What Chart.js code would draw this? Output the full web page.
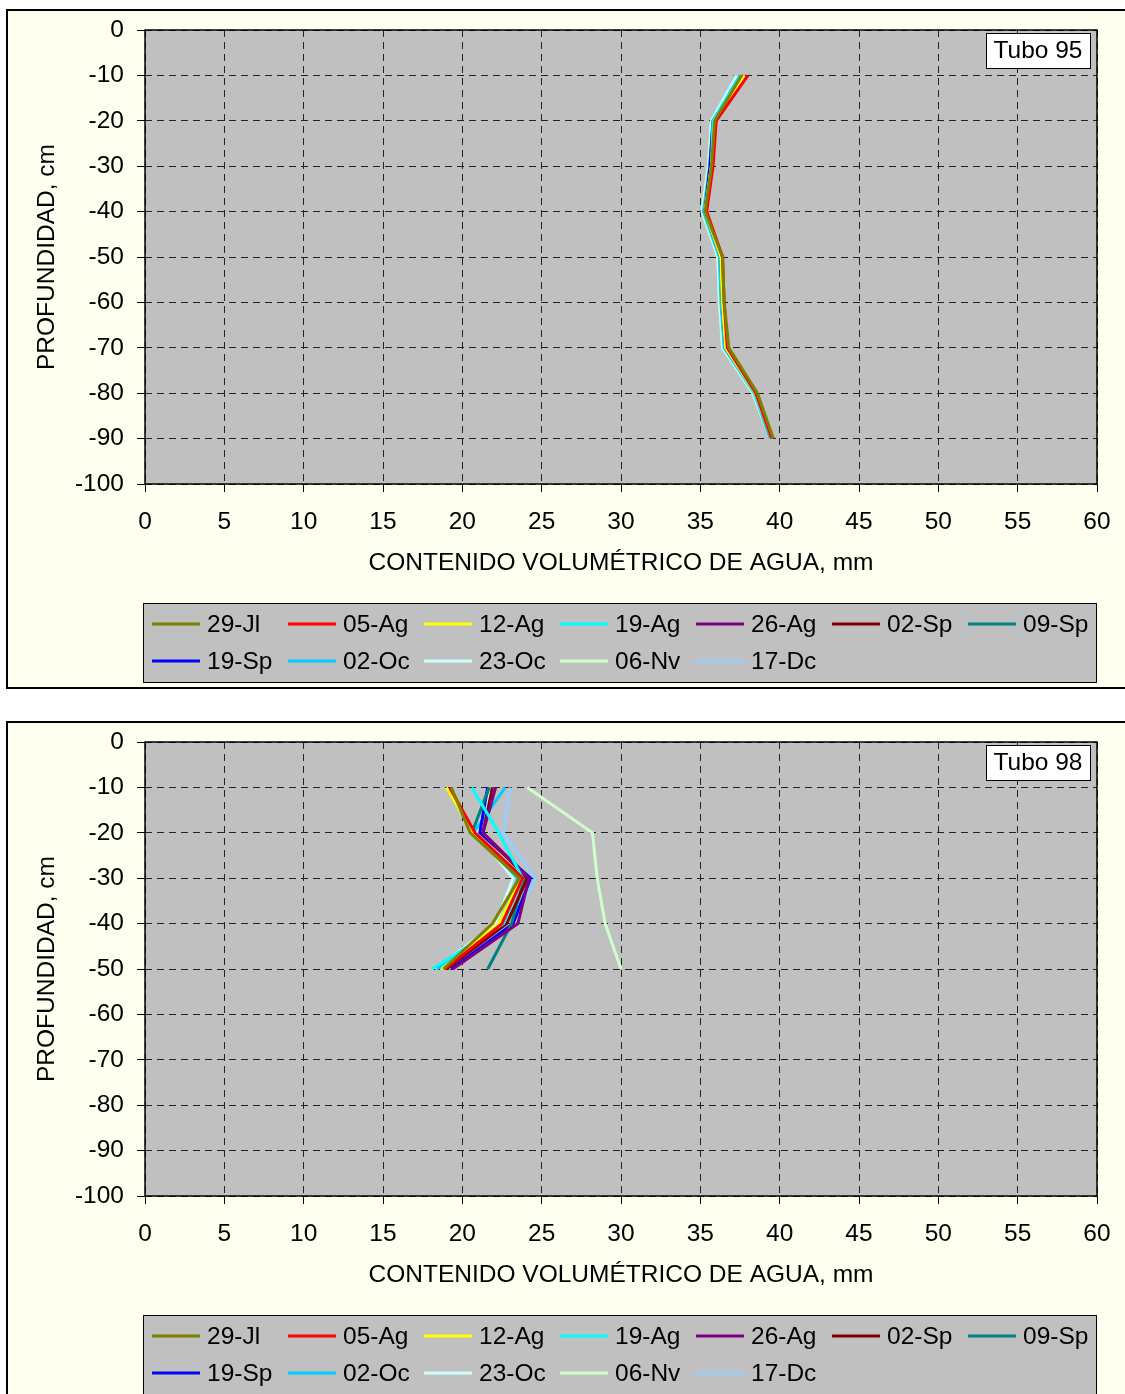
<!DOCTYPE html>
<html>
<head>
<meta charset="utf-8">
<script src="https://cdn.jsdelivr.net/npm/chart.js@4.4.0/dist/chart.umd.min.js"></script>
<style>
  html, body { margin: 0; padding: 0; background: #ffffff; overflow: hidden; width: 1125px; height: 1394px; }
  .caja { position: absolute; left: 6px; border: 2px solid #000; background: #FFFFF0; width: 1130px; height: 676px; }
  canvas { display: block; }
</style>
</head>
<body>
<div class="caja" style="top:9px"><canvas id="chartTubo95" width="1130" height="676"></canvas></div>
<div class="caja" style="top:721px"><canvas id="chartTubo98" width="1130" height="676"></canvas></div>
<script>
// fechas y colores (paleta excel)
const fechas = ["29-Jl", "05-Ag", "12-Ag", "19-Ag", "26-Ag", "02-Sp", "09-Sp", "19-Sp", "02-Oc", "23-Oc", "06-Nv", "17-Dc"]
const colores = ["#808000", "#FF0000", "#FFFF00", "#00FFFF", "#800080", "#800000", "#008080", "#0000FF", "#00CCFF", "#CCFFFF", "#CCFFCC", "#99CCFF"]

const ticksX = [0, 5, 10, 15, 20, 25, 30, 35, 40, 45, 50, 55, 60]
const ticksY = [0, -10, -20, -30, -40, -50, -60, -70, -80, -90, -100]

// Tubo 95
const profundidad95 = [-10, -20, -30, -40, -50, -60, -70, -80, -90]
const agua95 = [
    [37.6, 35.9, 35.7, 35.3, 36.4, 36.5, 36.8, 38.6, 39.6],
    [38.0, 36.0, 35.8, 35.4, 36.4, 36.5, 36.7, 38.5, 39.5],
    [37.8, 35.9, 35.7, 35.3, 36.3, 36.4, 36.6, 38.5, 39.5],
    [37.6, 35.8, 35.7, 35.3, 36.3, 36.4, 36.6, 38.4, 39.5],
    [37.8, 35.9, 35.7, 35.3, 36.3, 36.4, 36.6, 38.5, 39.5],
    [37.9, 35.9, 35.7, 35.3, 36.4, 36.4, 36.6, 38.5, 39.5],
    [37.7, 35.9, 35.7, 35.3, 36.3, 36.4, 36.6, 38.5, 39.5],
    [37.7, 35.8, 35.6, 35.3, 36.3, 36.4, 36.6, 38.5, 39.5],
    [37.5, 35.8, 35.6, 35.2, 36.2, 36.3, 36.5, 38.4, 39.4],
    [37.4, 35.7, 35.6, 35.2, 36.1, 36.3, 36.4, 38.4, 39.4],
    [37.3, 35.7, 35.5, 35.1, 36.1, 36.2, 36.4, 38.3, 39.4],
    [37.2, 35.7, 35.5, 35.2, 36.1, 36.2, 36.4, 38.4, 39.5]
]

// Tubo 98
const profundidad98 = [-10, -20, -30, -40, -50]
const agua98 = [
    [19.3, 20.5, 23.6, 21.9, 18.8],
    [19.2, 20.8, 23.8, 22.5, 18.9],
    [19.0, 20.7, 23.7, 22.3, 18.7],
    [20.6, 22.3, 23.8, 22.6, 18.1],
    [22.1, 21.3, 24.2, 23.5, 19.4],
    [21.9, 21.3, 24.1, 22.8, 19.0],
    [21.7, 20.6, 23.9, 23.1, 21.6],
    [21.6, 21.1, 24.3, 23.2, 19.3],
    [22.7, 20.7, 23.5, 22.4, 18.4],
    [21.9, 20.9, 23.2, 22.1, 18.3],
    [24.1, 28.2, 28.5, 29.0, 30.0],
    [23.0, 22.6, 24.6, 23.2, 19.1]
]

const fuente = "'Liberation Sans', Arial, sans-serif"
const tamLetra = 24.5

// fondo gris, borde, titulo y leyenda
const decoPlugin = {
    id: 'deco',
    beforeDraw(chart) {
        const ctx = chart.ctx
        const a = chart.chartArea
        ctx.save()
        ctx.fillStyle = '#C0C0C0'
        ctx.fillRect(a.left, a.top, a.right - a.left, a.bottom - a.top)
        ctx.restore()
    },
    beforeDatasetsDraw(chart) {
        const ctx = chart.ctx
        const a = chart.chartArea
        ctx.save()
        ctx.strokeStyle = '#000'
        ctx.lineWidth = 1.5
        ctx.strokeRect(a.left, a.top, a.right - a.left, a.bottom - a.top)
        ctx.restore()
    },
    afterDraw(chart) {
        const ctx = chart.ctx
        const opts = chart.options.plugins.deco
        ctx.save()
        // caja del titulo
        ctx.fillStyle = '#fff'
        ctx.fillRect(978, 22, 104, 35)
        ctx.strokeStyle = '#000'
        ctx.lineWidth = 1
        ctx.strokeRect(978.5, 22.5, 104, 35)
        ctx.fillStyle = '#000'
        ctx.font = tamLetra + 'px ' + fuente
        ctx.textAlign = 'center'
        ctx.textBaseline = 'middle'
        ctx.fillText(opts.titulo, 1030, 40)

        // leyenda
        ctx.fillStyle = '#C0C0C0'
        ctx.fillRect(135, 592, 953, 79)
        ctx.strokeStyle = '#000'
        ctx.strokeRect(135.5, 592.5, 953, 79)
        ctx.textAlign = 'left'
        chart.data.datasets.forEach((ds, i) => {
            const col = i % 7
            const fila = Math.floor(i / 7)
            const x = 144 + 136 * col
            const y = 613 + 37 * fila
            ctx.strokeStyle = ds.borderColor
            ctx.lineWidth = 3
            ctx.beginPath()
            ctx.moveTo(x, y)
            ctx.lineTo(x + 48, y)
            ctx.stroke()
            ctx.fillStyle = '#000'
            ctx.fillText(ds.label, x + 55, y + 1)
        })
        ctx.restore()
    }
}

function crearGrafico(id, titulo, profundidades, valores) {
    const datasets = fechas.map((f, i) => ({
        label: f,
        data: valores[i].map((v, j) => ({x: v, y: profundidades[j]})),
        borderColor: colores[i],
        backgroundColor: colores[i],
        borderWidth: 3,
        pointRadius: 0,
        showLine: true,
        fill: false,
        tension: 0
    }))

    const config = {
        type: 'scatter',
        data: { datasets },
        plugins: [decoPlugin],
        options: {
            responsive: false,
            animation: false,
            events: [],
            layout: { padding: { left: 0, top: 19, right: 41, bottom: 100 } },
            scales: {
                x: {
                    type: 'linear',
                    min: 0,
                    max: 60,
                    afterBuildTicks: (scale) => { scale.ticks = ticksX.map(v => ({value: v})) },
                    afterFit: (scale) => { scale.height = 103; scale.paddingLeft = 0; scale.paddingRight = 0 },
                    ticks: { color: '#000', font: { size: tamLetra, family: fuente }, padding: 16, maxRotation: 0, autoSkip: false },
                    grid: { color: '#222', lineWidth: 1, tickLength: 8, tickColor: '#000', borderDash: [7, 5] },
                    border: { display: false, dash: [7, 5] },
                    title: { display: true, text: 'CONTENIDO VOLUMÉTRICO DE AGUA, mm', color: '#000', font: { size: tamLetra, family: fuente }, padding: { top: 0, bottom: 9 } }
                },
                y: {
                    type: 'linear',
                    min: -100,
                    max: 0,
                    afterBuildTicks: (scale) => { scale.ticks = ticksY.map(v => ({value: v})) },
                    afterFit: (scale) => { scale.width = 137; scale.paddingTop = 0; scale.paddingBottom = 0 },
                    ticks: { color: '#000', font: { size: tamLetra, family: fuente }, padding: 13, autoSkip: false },
                    grid: { color: '#222', lineWidth: 1, tickLength: 8, tickColor: '#000', borderDash: [7, 5] },
                    border: { display: false, dash: [7, 5] },
                    title: { display: true, text: 'PROFUNDIDAD, cm', color: '#000', font: { size: tamLetra, family: fuente }, padding: { top: 25, bottom: 0 } }
                }
            },
            plugins: {
                legend: { display: false },
                tooltip: { enabled: false },
                deco: { titulo: titulo }
            }
        }
    }

    return new Chart(document.getElementById(id), config)
}

crearGrafico('chartTubo95', 'Tubo 95', profundidad95, agua95)
crearGrafico('chartTubo98', 'Tubo 98', profundidad98, agua98)
</script>
</body>
</html>
